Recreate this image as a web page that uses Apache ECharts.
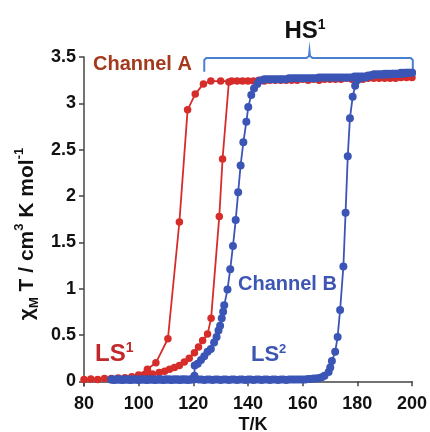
<!DOCTYPE html>
<html>
<head>
<meta charset="utf-8">
<script src="https://cdn.jsdelivr.net/npm/echarts@6/dist/echarts.min.js"></script>
<style>html,body{margin:0;padding:0;background:#fff;}#c{width:430px;height:432px;}</style>
</head>
<body>
<div id="c"></div>
<script>
// ---- Data ----
var xTicks = [80, 100, 120, 140, 160, 180, 200];
var yTicks = [0, 0.5, 1, 1.5, 2, 2.5, 3, 3.5];

// Channel A, warming branch
var redUpT = [80, 82.5, 85, 87.5, 90, 92.5, 95, 97.5, 100, 102.5, 105, 107.5, 109.5, 111.3, 113.1, 114.9, 116.7, 118.5, 120.4, 121.9, 123.4, 125.2, 126.5, 129.5, 130.7, 133, 136, 140, 144, 148, 152, 156, 160, 164, 168, 172, 176, 180, 184, 188, 192, 196, 200];
var redUpV = [0.02, 0.025, 0.02, 0.03, 0.03, 0.035, 0.04, 0.05, 0.06, 0.07, 0.08, 0.095, 0.11, 0.13, 0.15, 0.17, 0.21, 0.25, 0.31, 0.37, 0.44, 0.51, 0.68, 1.78, 2.40, 3.23, 3.24, 3.24, 3.25, 3.25, 3.25, 3.25, 3.26, 3.26, 3.26, 3.26, 3.27, 3.27, 3.27, 3.27, 3.27, 3.28, 3.28];

// Channel A, cooling branch
var redDnT = [198, 194, 190, 186, 182, 178, 174, 170, 166, 162, 158, 154, 150, 146, 142, 138, 134, 130, 126.4, 123.7, 120.7, 117.9, 114.9, 110.7, 106.3, 103.2, 100];
var redDnV = [3.28, 3.27, 3.27, 3.27, 3.26, 3.26, 3.26, 3.26, 3.25, 3.25, 3.25, 3.25, 3.25, 3.24, 3.24, 3.24, 3.24, 3.24, 3.24, 3.21, 3.10, 2.93, 1.72, 0.46, 0.20, 0.13, 0.07];

// Channel B, warming branch
var blueUpT = [90, 91, 92, 93, 94, 95, 96, 97, 98, 99,
  100, 101, 102, 103, 104, 105, 106, 107, 108, 109,
  110, 111, 112, 113, 114, 115, 116, 117, 118, 119,
  120, 121, 122, 123, 124, 125, 126, 127, 128, 129,
  130, 131, 132, 133, 134, 135, 136, 137, 138, 139,
  140, 141, 142, 143, 144, 145, 146, 147, 148, 149,
  150, 151, 152, 153, 154, 155, 156, 157, 158, 159,
  160, 161, 162, 163, 164, 165, 166, 167, 168, 169.5,
  170.1, 170.7, 171.9, 172.8, 173.7, 174.9, 175.7, 176.5, 177.3, 178.3,
  179.2, 180, 181, 182, 183, 184, 185, 186, 187, 188,
  189, 190, 191, 192, 193, 194, 195, 196, 197, 198, 199, 200];
var blueUpV = [0.02, 0.015, 0.02, 0.02, 0.015, 0.02, 0.02, 0.015, 0.02, 0.02,
  0.015, 0.02, 0.02, 0.015, 0.02, 0.02, 0.015, 0.02, 0.02, 0.015,
  0.02, 0.02, 0.015, 0.02, 0.02, 0.015, 0.02, 0.02, 0.015, 0.02,
  0.02, 0.025, 0.02, 0.02, 0.015, 0.02, 0.02, 0.015, 0.02, 0.02,
  0.015, 0.02, 0.02, 0.015, 0.02, 0.02, 0.015, 0.02, 0.02, 0.015,
  0.02, 0.02, 0.015, 0.02, 0.02, 0.015, 0.02, 0.02, 0.015, 0.02,
  0.02, 0.015, 0.02, 0.02, 0.015, 0.02, 0.02, 0.02, 0.02, 0.02,
  0.02, 0.02, 0.025, 0.025, 0.03, 0.03, 0.035, 0.045, 0.06, 0.10,
  0.15, 0.22, 0.32, 0.48, 0.77, 1.24, 1.82, 2.43, 2.84, 3.07,
  3.19, 3.25, 3.27, 3.28, 3.28, 3.29, 3.30, 3.31, 3.31, 3.31,
  3.31, 3.32, 3.32, 3.32, 3.32, 3.32, 3.32, 3.33, 3.33, 3.33, 3.33, 3.33];

// Channel B, cooling branch
var blueDnT = [200, 199, 198, 197, 196, 195, 194, 193, 192, 191,
  190, 189, 188, 187, 186, 185, 184, 183, 182, 181,
  180, 179, 178, 177, 176, 175, 174, 173, 172, 171,
  170, 169, 168, 167, 166, 165, 164, 163, 162, 161,
  160, 159, 158, 157, 156, 155, 154, 153, 152, 151,
  150, 149, 148, 147, 146, 145, 144, 143.4, 142.2, 141.2,
  140.1, 139.4, 138.3, 137.3, 136.4, 135.5, 134.5, 133.5, 132.5, 131.3,
  130.9, 130.4, 129.8, 129.2, 128.5, 127.6, 126.4, 125.2, 124, 122.8,
  121.6, 120.5, 120.4, 120, 119, 118, 117, 116, 115, 114,
  113, 112, 111, 110, 109, 108, 107, 106, 105, 104,
  103, 102, 101, 100, 99, 98, 97, 96, 95, 94, 93, 92, 91, 90];
var blueDnV = [3.33, 3.33, 3.33, 3.32, 3.32, 3.32, 3.32, 3.32, 3.31, 3.31,
  3.31, 3.31, 3.31, 3.31, 3.31, 3.30, 3.30, 3.29, 3.29, 3.29,
  3.29, 3.29, 3.28, 3.28, 3.28, 3.28, 3.28, 3.28, 3.28, 3.28,
  3.28, 3.28, 3.28, 3.28, 3.28, 3.27, 3.27, 3.27, 3.27, 3.27,
  3.27, 3.27, 3.27, 3.27, 3.27, 3.27, 3.26, 3.26, 3.26, 3.26,
  3.26, 3.26, 3.26, 3.26, 3.26, 3.25, 3.24, 3.21, 3.16, 3.09,
  2.96, 2.80, 2.58, 2.33, 2.04, 1.74, 1.46, 1.21, 0.99, 0.82,
  0.75, 0.68, 0.60, 0.55, 0.48, 0.42, 0.35, 0.32, 0.27, 0.23,
  0.19, 0.17, 0.06, 0.025, 0.02, 0.02, 0.02, 0.02, 0.02, 0.02,
  0.02, 0.02, 0.02, 0.02, 0.02, 0.02, 0.02, 0.02, 0.02, 0.02,
  0.02, 0.02, 0.02, 0.02, 0.02, 0.02, 0.02, 0.02, 0.02, 0.02, 0.02, 0.02, 0.02, 0.02];

function pairs(t, v) { return t.map(function (x, i) { return [x, v[i]]; }); }

var RED = '#d62d2a';
var BLUE = '#3b55b6';
var FONT = '"Liberation Sans", Arial, sans-serif';

var chart = echarts.init(document.getElementById('c'), null, { renderer: 'canvas' });

function mkSeries(name, data, color, size) {
  return {
    name: name, type: 'line', data: data,
    symbol: 'circle', symbolSize: size, showSymbol: true,
    itemStyle: { color: color },
    lineStyle: { color: color, width: 1.8 },
    animation: false
  };
}

chart.setOption({
  animation: false,
  grid: { left: 84, right: 16, top: 57, bottom: 46 },
  xAxis: {
    type: 'value', min: 80, max: 200, interval: 20,
    axisLine: { lineStyle: { color: '#444', width: 1.5 } },
    axisTick: { show: true, length: 5, lineStyle: { color: '#444', width: 1.5 } },
    axisLabel: { color: '#111', fontSize: 18, fontWeight: 'bold', fontFamily: FONT, margin: 9 },
    splitLine: { show: false }
  },
  yAxis: {
    type: 'value', min: -0.05, max: 3.5,
    axisLine: { show: true, lineStyle: { color: '#444', width: 1.5 } },
    axisTick: { show: true, length: 5, customValues: yTicks, lineStyle: { color: '#444', width: 1.5 } },
    axisLabel: { color: '#111', fontSize: 18, fontWeight: 'bold', fontFamily: FONT, margin: 8, customValues: yTicks },
    splitLine: { show: false }
  },
  series: [
    mkSeries('Channel A warming', pairs(redUpT, redUpV), RED, 7.5),
    mkSeries('Channel A cooling', pairs(redDnT, redDnV), RED, 7.5),
    mkSeries('Channel B warming', pairs(blueUpT, blueUpV), BLUE, 8),
    mkSeries('Channel B cooling', pairs(blueDnT, blueDnV), BLUE, 8)
  ]
});

// Annotations
var p0 = chart.convertToPixel({ gridIndex: 0 }, [124, 3.49]);
var p1 = chart.convertToPixel({ gridIndex: 0 }, [200.3, 3.34]);
var pc = chart.convertToPixel({ gridIndex: 0 }, [162.5, 3.565]);
var yTop = p0[1], yEnd = p1[1], yNotch = pc[1];
var x0 = p0[0], x1 = p1[0], xc = pc[0];
var bracketPts = [[x0, yEnd], [x0, yTop + 2], [x0 + 2, yTop], [xc - 3, yTop], [xc - 0.5, yTop - 2], [xc, yNotch], [xc + 0.5, yTop - 2], [xc + 3, yTop], [x1 - 2, yTop], [x1, yTop + 2], [x1, yEnd]];

chart.setOption({
  graphic: [
    { type: 'polyline', shape: { points: bracketPts }, style: { stroke: '#4a80d2', lineWidth: 2, fill: null }, silent: true },
    { type: 'text', x: 305, y: 31, style: { text: '{a|HS}{b|1}', align: 'center', verticalAlign: 'middle',
        rich: { a: { fontSize: 24, fontWeight: 'bold', fontFamily: FONT, fill: '#111', lineHeight: 26 },
                b: { fontSize: 14, fontWeight: 'bold', fontFamily: FONT, fill: '#111', verticalAlign: 'top', lineHeight: 26 } } } },
    { type: 'text', x: 93, y: 64, style: { text: 'Channel A', align: 'left', verticalAlign: 'middle', fill: '#a3391d', font: 'bold 20px ' + FONT } },
    { type: 'text', x: 238, y: 284, style: { text: 'Channel B', align: 'left', verticalAlign: 'middle', fill: '#3d55b3', font: 'bold 20px ' + FONT } },
    { type: 'text', x: 95, y: 354, style: { text: '{a|LS}{b|1}', align: 'left', verticalAlign: 'middle',
        rich: { a: { fontSize: 24, fontWeight: 'bold', fontFamily: FONT, fill: '#c2282b', lineHeight: 26 },
                b: { fontSize: 14, fontWeight: 'bold', fontFamily: FONT, fill: '#c2282b', verticalAlign: 'top', lineHeight: 26 } } } },
    { type: 'text', x: 251, y: 355, style: { text: '{a|LS}{b|2}', align: 'left', verticalAlign: 'middle',
        rich: { a: { fontSize: 22, fontWeight: 'bold', fontFamily: FONT, fill: '#3d55b3', lineHeight: 24 },
                b: { fontSize: 13, fontWeight: 'bold', fontFamily: FONT, fill: '#3d55b3', verticalAlign: 'top', lineHeight: 24 } } } },
    { type: 'text', x: 253, y: 425, style: { text: 'T/K', align: 'center', verticalAlign: 'middle', fill: '#111', font: 'bold 18px ' + FONT } },
    { type: 'text', x: 27, y: 234, rotation: Math.PI / 2,
      style: { text: '{a|χ}{s|M}{a| T / cm}{p|3}{a| K mol}{p|-1}', align: 'center', verticalAlign: 'middle',
        rich: { a: { fontSize: 21, fontWeight: 'bold', fontFamily: FONT, fill: '#111', lineHeight: 28 },
                s: { fontSize: 13, fontWeight: 'bold', fontFamily: FONT, fill: '#111', verticalAlign: 'bottom', lineHeight: 28 },
                p: { fontSize: 13, fontWeight: 'bold', fontFamily: FONT, fill: '#111', verticalAlign: 'top', lineHeight: 28 } } } }
  ]
});
</script>
</body>
</html>
